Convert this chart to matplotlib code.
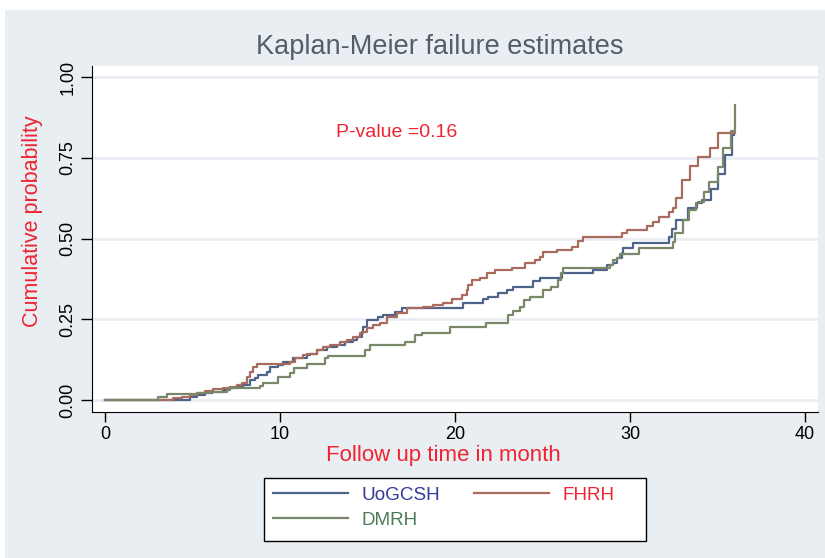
import matplotlib
matplotlib.use("Agg")
import matplotlib.pyplot as plt
from matplotlib.patches import Rectangle

plt.rcParams['font.family'] = ['Liberation Sans', 'DejaVu Sans']

# ---------------- data (step functions: time in months, cumulative failure) -------------
uog_t = [0, 4.86, 5.24, 5.71, 6.10, 6.76, 7.14, 7.52, 7.90, 8.29, 8.57, 8.76, 9.24, 9.43,
         9.90, 10.19, 10.76, 11.52, 11.71, 12.10, 12.67, 13.24, 13.71, 14.19, 14.38, 14.67,
         14.76, 14.95, 15.62, 15.90, 16.57, 16.95, 20.44, 21.62, 21.90, 22.48, 22.95, 23.33,
         24.48, 24.86, 26.10, 27.90, 28.67, 29.05, 29.24, 29.52, 29.62, 30.19, 32.20, 32.40,
         32.65, 33.30, 33.80, 34.10, 34.60, 35.05, 35.45, 35.85, 35.95]
uog_p = [0, 0.010, 0.016, 0.021, 0.026, 0.031, 0.036, 0.041, 0.046, 0.062, 0.067, 0.077,
         0.088, 0.103, 0.108, 0.119, 0.131, 0.139, 0.144, 0.155, 0.165, 0.170, 0.181, 0.186,
         0.196, 0.212, 0.227, 0.248, 0.256, 0.263, 0.273, 0.284, 0.301, 0.312, 0.320, 0.330,
         0.341, 0.351, 0.367, 0.377, 0.392, 0.403, 0.418, 0.423, 0.439, 0.454, 0.470, 0.487,
         0.506, 0.530, 0.557, 0.594, 0.611, 0.619, 0.653, 0.700, 0.758, 0.820, 0.820]

fhrh_t = [0, 3.90, 4.38, 4.86, 5.24, 5.71, 6.19, 6.76, 7.14, 7.52, 7.81, 8.10, 8.29, 8.48,
          8.67, 10.00, 10.57, 10.86, 11.33, 11.52, 12.10, 12.48, 12.86, 13.43, 13.81, 14.19,
          14.57, 14.76, 14.95, 15.33, 15.71, 16.10, 16.67, 17.24, 18.19, 18.76, 19.33, 19.81,
          20.38, 20.67, 20.76, 20.95, 21.43, 21.81, 22.29, 23.24, 24.00, 24.57, 24.86, 25.05,
          25.81, 26.67, 27.05, 27.33, 29.52, 29.80, 30.95, 31.30, 31.65, 32.20, 32.45, 32.65,
          32.98, 33.45, 33.90, 34.57, 35.02, 36.00]
fhrh_p = [0, 0.005, 0.010, 0.016, 0.023, 0.028, 0.033, 0.036, 0.041, 0.046, 0.052, 0.072,
          0.088, 0.103, 0.111, 0.113, 0.119, 0.129, 0.139, 0.144, 0.155, 0.165, 0.170, 0.181,
          0.186, 0.196, 0.206, 0.212, 0.222, 0.232, 0.237, 0.258, 0.268, 0.284, 0.289, 0.294,
          0.301, 0.312, 0.325, 0.341, 0.356, 0.372, 0.377, 0.392, 0.401, 0.408, 0.423, 0.432,
          0.444, 0.457, 0.465, 0.475, 0.491, 0.506, 0.516, 0.526, 0.540, 0.552, 0.568, 0.582,
          0.596, 0.626, 0.680, 0.724, 0.753, 0.779, 0.827, 0.827]

dmrh_t = [0, 3.05, 3.56, 5.24, 6.00, 6.95, 7.14, 7.52, 8.86, 9.05, 9.90, 10.57, 10.80, 11.52,
          12.57, 12.76, 14.86, 15.14, 17.14, 17.71, 18.10, 19.71, 21.77, 23.05, 23.33, 23.71,
          23.94, 24.29, 25.05, 25.47, 25.90, 26.04, 26.19, 28.86, 29.05, 29.24, 29.43, 30.53,
          32.43, 32.57, 33.05, 33.35, 33.75, 33.90, 34.20, 34.50, 35.05, 35.30, 35.75, 36.00,
          36.00]
dmrh_p = [0, 0.010, 0.018, 0.021, 0.026, 0.031, 0.036, 0.038, 0.045, 0.052, 0.072, 0.084,
          0.098, 0.113, 0.129, 0.136, 0.155, 0.170, 0.181, 0.201, 0.208, 0.227, 0.240, 0.263,
          0.276, 0.289, 0.310, 0.320, 0.341, 0.351, 0.372, 0.392, 0.408, 0.418, 0.433, 0.439,
          0.452, 0.470, 0.490, 0.516, 0.557, 0.588, 0.609, 0.614, 0.645, 0.676, 0.722, 0.779,
          0.834, 0.834, 0.913]

series_names = ["UoGCSH", "FHRH", "DMRH"]
line_colors = ["#4e6489", "#a86b5e", "#7a886a"]
text_colors = ["#363a9b", "#ee2431", "#4c7c58"]

x_ticks = [0, 10, 20, 30, 40]
y_ticks = [0, 0.25, 0.5, 0.75, 1.0]
y_tick_labels = ["0.00", "0.25", "0.50", "0.75", "1.00"]

title = "Kaplan-Meier failure estimates"
x_label = "Follow up time in month"
y_label = "Cumulative probability"
p_text = "P-value =0.16"

# ---------------- figure -----------------
W, H = 825, 558
fig = plt.figure(figsize=(W / 100, H / 100), dpi=100, facecolor="white")
bg = "#e9eef2"
fig.patches.append(Rectangle((5 / W, 0), 1, 1 - 10 / H, transform=fig.transFigure,
                             facecolor=bg, edgecolor="none", zorder=-10))
# legend box
fig.patches.append(Rectangle((264 / W, 1 - 541 / H), 382 / W, 63 / H, transform=fig.transFigure,
                             facecolor="white", edgecolor="black", lw=1.0, zorder=-5))

L, R, T, B = 92, 818, 66, 412
ax = fig.add_axes([L / W, 1 - B / H, (R - L) / W, (B - T) / H])
ax.set_facecolor("white")

handles = {}
for t, p, c, n in zip([uog_t, fhrh_t, dmrh_t], [uog_p, fhrh_p, dmrh_p], line_colors, series_names):
    h, = ax.step(t, p, where="post", color=c, lw=1.6, label=n, zorder=3)
    handles[n] = h

ax.set_xlim(-0.74, 40.74)
ax.set_ylim(-0.037, 1.034)
ax.set_xticks(x_ticks)
ax.set_yticks(y_ticks)
ax.set_yticklabels(y_tick_labels, rotation=90, va="center")
ax.tick_params(axis="x", length=7, width=1, pad=3, labelsize=13, colors="black")
ax.tick_params(axis="y", length=8, width=1, pad=3, labelsize=13, colors="black")
for yv in y_ticks:
    ax.axhline(yv, color="#e6ebf1", lw=1.8, zorder=1)
for s in ["top", "right"]:
    ax.spines[s].set_visible(False)
ax.spines["left"].set_color("black")
ax.spines["bottom"].set_color("black")

ax.set_xlabel(x_label, color="#ee2431", fontsize=16, va="center")
ax.xaxis.set_label_coords((443.5 - L) / (R - L), (B - 456) / (B - T))
ax.set_ylabel(y_label, color="#ee2431", fontsize=15.5, va="center")
ax.yaxis.set_label_coords((33 - L) / (R - L), (B - 221.5) / (B - T))

fig.text(440 / W, 1 - 47 / H, title, ha="center", va="center", fontsize=19.5, color="#555d6b")
ax.text(13.2, 0.827, p_text, color="#ee2431", fontsize=14, ha="left", va="center")

order = ["UoGCSH", "DMRH", "FHRH"]
leg = ax.legend([handles[n] for n in order], order, ncol=2, loc="upper left",
                bbox_to_anchor=(264 / W, 1 - 478 / H),
                bbox_transform=fig.transFigure, frameon=False,
                fontsize=13.6, handlelength=4.0, handletextpad=0.7, labelspacing=0.42,
                borderpad=0.45, borderaxespad=0, columnspacing=1.8)
tc = dict(zip(series_names, text_colors))
for txt in leg.get_texts():
    txt.set_color(tc[txt.get_text()])

fig.savefig("out.png", dpi=100, facecolor=fig.get_facecolor())
